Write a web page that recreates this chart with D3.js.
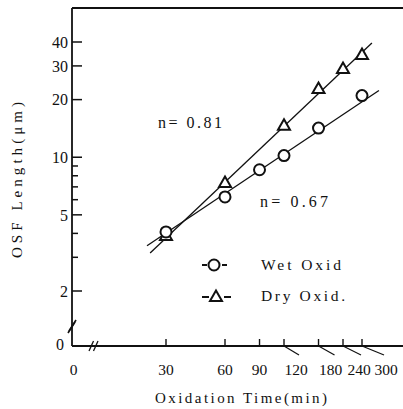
<!DOCTYPE html>
<html>
<head>
<meta charset="utf-8">
<script src="https://cdn.jsdelivr.net/npm/d3@7/dist/d3.min.js"></script>
<style>
  body { margin: 0; background: #fff; }
  svg { display: block; }
  text { font-family: "Liberation Serif", "DejaVu Serif", serif; fill: #111; }
</style>
</head>
<body>
<svg id="chart" width="403" height="409"></svg>
<script>
// oxidation time (min) and OSF length (um)
var wetTime = [30, 60, 90, 120, 180, 300];
var wetLength = [4.07, 6.2, 8.6, 10.2, 14.2, 21];
var dryTime = [30, 60, 120, 180, 240, 300];
var dryLength = [3.88, 7.33, 14.6, 22.7, 28.9, 34.2];

// fitted lines, end points only
var wetFitTime = [24, 366];
var wetFitLength = [3.45, 22.3];
var dryFitTime = [24.9, 337];
var dryFitLength = [3.16, 39.5];

var xTicks = [30, 60, 90, 120, 180, 240, 300];
var xSlanted = [120, 180, 240, 300];
var yMajor = [2, 5, 10, 20, 30, 40];
var yMinor = [3, 4, 6, 7, 8, 9];

var AXIS_LEFT = 72;
var AXIS_BOTTOM = 346;
var AXIS_TOP = 8;
var RIGHT = 403;

var svg = d3.select("#chart");

var x = d3.scaleLog().domain([30, 300]).range([166, 362]);
var y = d3.scaleLog().domain([2, 40]).range([291, 42]);

// frame: left, top and bottom lines
var frame = svg.append("g")
    .attr("stroke", "#111")
    .attr("stroke-width", 1.8)
    .attr("fill", "none");
frame.append("line").attr("x1", AXIS_LEFT).attr("x2", AXIS_LEFT)
    .attr("y1", AXIS_TOP).attr("y2", AXIS_BOTTOM);
frame.append("line").attr("x1", AXIS_LEFT).attr("x2", RIGHT)
    .attr("y1", AXIS_TOP).attr("y2", AXIS_TOP);
frame.append("line").attr("x1", AXIS_LEFT).attr("x2", RIGHT)
    .attr("y1", AXIS_BOTTOM).attr("y2", AXIS_BOTTOM);

// axis breaks
frame.selectAll(".ybreak")
    .data([0, 2])
    .enter()
    .append("line")
    .attr("class", "ybreak")
    .attr("stroke-width", 1.6)
    .attr("x1", function (d) { return AXIS_LEFT - 4 + d * 0.5; })
    .attr("y1", function (d) { return 333 - d; })
    .attr("x2", function (d) { return AXIS_LEFT + 3 + d * 0.5; })
    .attr("y2", function (d) { return 322 - d; });
frame.selectAll(".xbreak")
    .data([89, 93.5])
    .enter()
    .append("line")
    .attr("class", "xbreak")
    .attr("stroke-width", 1.3)
    .attr("x1", function (d) { return d; })
    .attr("y1", AXIS_BOTTOM + 5)
    .attr("x2", function (d) { return d + 4.5; })
    .attr("y2", AXIS_BOTTOM - 5);

// y ticks (inside) and labels
var yAxis = svg.append("g").attr("stroke", "#111").attr("stroke-width", 1.5);
yAxis.selectAll(".ymaj")
    .data(yMajor)
    .enter()
    .append("line")
    .attr("x1", AXIS_LEFT).attr("x2", AXIS_LEFT + 10)
    .attr("y1", function (d) { return y(d); })
    .attr("y2", function (d) { return y(d); });
yAxis.selectAll(".ymin")
    .data(yMinor)
    .enter()
    .append("line")
    .attr("x1", AXIS_LEFT).attr("x2", AXIS_LEFT + 6)
    .attr("y1", function (d) { return y(d); })
    .attr("y2", function (d) { return y(d); });
svg.selectAll(".ylabel")
    .data(yMajor)
    .enter()
    .append("text")
    .attr("class", "ylabel")
    .attr("x", 68)
    .attr("y", function (d) { return y(d); })
    .attr("dy", "0.36em")
    .attr("text-anchor", "end")
    .style("font-size", "16px")
    .text(function (d) { return d; });
svg.append("text")
    .attr("x", 64).attr("y", 344).attr("dy", "0.36em")
    .attr("text-anchor", "end")
    .style("font-size", "16px")
    .text("0");

// x ticks, slanted leaders for the crowded ones
var xAxis = svg.append("g").attr("stroke", "#111").attr("stroke-width", 1.4);
xAxis.selectAll(".xt")
    .data(xTicks)
    .enter()
    .append("line")
    .attr("x1", function (d) { return x(d); })
    .attr("x2", function (d) { return x(d); })
    .attr("y1", AXIS_BOTTOM)
    .attr("y2", AXIS_BOTTOM - 7);
var leaderDx = [15, 16, 18, 22];
xAxis.selectAll(".xs")
    .data(xSlanted)
    .enter()
    .append("line")
    .attr("stroke-width", 1.2)
    .attr("x1", function (d) { return x(d); })
    .attr("y1", AXIS_BOTTOM)
    .attr("x2", function (d, i) { return x(d) + leaderDx[i]; })
    .attr("y2", AXIS_BOTTOM + 9);
var labelDx = [12, 12, 16, 24];
svg.selectAll(".xlabel")
    .data(xTicks)
    .enter()
    .append("text")
    .attr("class", "xlabel")
    .attr("x", function (d) {
        var k = xSlanted.indexOf(d);
        return k < 0 ? x(d) : x(d) + labelDx[k];
    })
    .attr("y", 375)
    .attr("text-anchor", "middle")
    .style("font-size", "15.5px")
    .text(function (d) { return d; });
svg.append("text")
    .attr("x", 73.5).attr("y", 375)
    .attr("text-anchor", "middle")
    .style("font-size", "15.5px")
    .text("0");

// axis titles
svg.append("text")
    .attr("x", 155).attr("y", 403)
    .attr("textLength", 172)
    .attr("lengthAdjust", "spacing")
    .style("font-size", "15px")
    .text("Oxidation Time(min)");
svg.append("text")
    .attr("transform", "translate(22,258) rotate(-90)")
    .attr("textLength", 156)
    .attr("lengthAdjust", "spacing")
    .style("font-size", "15px")
    .text("OSF Length(μm)");

// fitted lines
var line = d3.line()
    .x(function (d) { return x(d[0]); })
    .y(function (d) { return y(d[1]); });
svg.append("path")
    .datum(d3.zip(dryFitTime, dryFitLength))
    .attr("d", line)
    .attr("fill", "none")
    .attr("stroke", "#111")
    .attr("stroke-width", 1.3);
svg.append("path")
    .datum(d3.zip(wetFitTime, wetFitLength))
    .attr("d", line)
    .attr("fill", "none")
    .attr("stroke", "#111")
    .attr("stroke-width", 1.3);

var triangle = "M0,-6.5L6,4L-6,4Z";

// markers: dry first so the wet circle sits on top at 30 min
svg.selectAll(".dry")
    .data(d3.zip(dryTime, dryLength))
    .enter()
    .append("path")
    .attr("class", "dry")
    .attr("d", triangle)
    .attr("transform", function (d) { return "translate(" + x(d[0]) + "," + y(d[1]) + ")"; })
    .attr("fill", "#fff")
    .attr("stroke", "#111")
    .attr("stroke-width", 2);
svg.selectAll(".wet")
    .data(d3.zip(wetTime, wetLength))
    .enter()
    .append("circle")
    .attr("class", "wet")
    .attr("cx", function (d) { return x(d[0]); })
    .attr("cy", function (d) { return y(d[1]); })
    .attr("r", 5.5)
    .attr("fill", "#fff")
    .attr("stroke", "#111")
    .attr("stroke-width", 2);

// slope notes
svg.append("text")
    .attr("x", 158).attr("y", 128)
    .attr("textLength", 64)
    .attr("lengthAdjust", "spacing")
    .style("font-size", "16px")
    .text("n= 0.81");
svg.append("text")
    .attr("x", 260).attr("y", 207)
    .attr("textLength", 68)
    .attr("lengthAdjust", "spacing")
    .style("font-size", "16px")
    .text("n= 0.67");

// legend
var legend = svg.append("g");
var lg = legend.append("g").attr("stroke", "#111").attr("stroke-width", 2);
lg.append("line").attr("x1", 202).attr("x2", 207).attr("y1", 265).attr("y2", 265);
lg.append("line").attr("x1", 222).attr("x2", 227).attr("y1", 265).attr("y2", 265);
lg.append("circle").attr("cx", 214).attr("cy", 265).attr("r", 5.5).attr("fill", "#fff");
lg.append("line").attr("x1", 202).attr("x2", 209).attr("y1", 297).attr("y2", 297);
lg.append("line").attr("x1", 224).attr("x2", 231).attr("y1", 297).attr("y2", 297);
lg.append("path").attr("d", triangle)
    .attr("transform", "translate(216,297)")
    .attr("fill", "#fff");
legend.append("text")
    .attr("x", 261).attr("y", 270)
    .attr("textLength", 80)
    .attr("lengthAdjust", "spacing")
    .style("font-size", "15.5px")
    .text("Wet Oxid");
legend.append("text")
    .attr("x", 261).attr("y", 301)
    .attr("textLength", 84)
    .attr("lengthAdjust", "spacing")
    .style("font-size", "15.5px")
    .text("Dry Oxid.");
</script>
</body>
</html>
